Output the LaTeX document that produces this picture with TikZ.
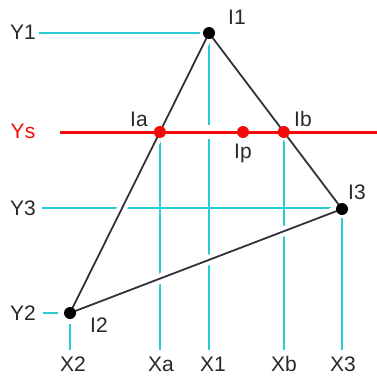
\documentclass[tikz,border=0pt]{standalone}
\usepackage{fontspec}
\setmainfont{Liberation Sans}
\definecolor{guidecyan}{RGB}{40,205,212}
\definecolor{edgegray}{RGB}{50,50,60}
\definecolor{scanred}{RGB}{245,10,10}
\definecolor{labelgray}{RGB}{40,40,40}
\begin{document}
\begin{tikzpicture}[x=1pt,y=-1pt,
  guide/.style={draw=guidecyan, line width=1.6pt},
  halo/.style={draw=white, line width=10pt},
  edge/.style={draw=edgegray, line width=1.8pt},
  scan/.style={draw=scanred, line width=3pt},
  vdot/.style={circle, fill=black, inner sep=0pt, minimum size=12pt},
  rdot/.style={circle, fill=scanred, inner sep=0pt, minimum size=12pt},
  lbl/.style={text=labelgray, font=\fontsize{21}{23}\selectfont, inner sep=0pt},
  rlbl/.style={text=scanred, font=\fontsize{21}{23}\selectfont, inner sep=0pt}
]
\path[use as bounding box] (0,0) rectangle (377,375);

% points
\coordinate (I1) at (209,33);
\coordinate (I2) at (70,313);
\coordinate (I3) at (342,209);
\coordinate (Ia) at (159.9,132);
\coordinate (Ib) at (283.8,132);
\coordinate (Ip) at (243,132);
\coordinate (ysL) at (60,132);
\coordinate (ysR) at (377,132);

% axis labels
\node[lbl] (Y1) at (23,32) {Y1};
\node[lbl] (Y3) at (23,208) {Y3};
\node[lbl] (Y2) at (23,313) {Y2};
\node[rlbl] (Ys) at (23,131) {Ys};
\node[lbl] (X2) at (73,364) {X2};
\node[lbl] (Xa) at (161,364) {Xa};
\node[lbl] (X1) at (213,364) {X1};
\node[lbl] (Xb) at (284,364) {Xb};
\node[lbl] (X3) at (343,364) {X3};

% guide line end points
\coordinate (y1s) at (39,33);
\coordinate (y1e) at (200,33);
\coordinate (y3s) at (42,208);
\coordinate (y3e) at (331,208);
\coordinate (y2s) at (43,313);
\coordinate (y2e) at (58,313);
\coordinate (x2s) at (70,324);
\coordinate (x2e) at (70,350);
\coordinate (xas) at (159.9,132);
\coordinate (xae) at (159.9,350);
\coordinate (x1s) at (209,40);
\coordinate (x1e) at (209,350);
\coordinate (xbs) at (283.8,132);
\coordinate (xbe) at (283.8,350);
\coordinate (x3s) at (342,218);
\coordinate (x3e) at (342,350);

% cyan guide lines
\draw[guide] (y1s) -- (y1e);
\draw[guide] (y3s) -- (y3e);
\draw[guide] (y2s) -- (y2e);
\draw[guide] (x2s) -- (x2e);
\draw[guide] (xas) -- (xae);
\draw[guide] (x1s) -- (x1e);
\draw[guide] (xbs) -- (xbe);
\draw[guide] (x3s) -- (x3e);

% white halos
\draw[halo, line width=14pt] (ysL) -- (ysR);
\draw[halo] (I1) -- (I2) -- (I3) -- cycle;

% triangle
\draw[edge, line join=round] (I1) -- (I2) -- (I3) -- cycle;

% scan line
\draw[scan] (ysL) -- (ysR);

% dots
\node[vdot] (dI1) at (I1) {};
\node[vdot] (dI2) at (I2) {};
\node[vdot] (dI3) at (I3) {};
\node[rdot] (dIa) at (Ia) {};
\node[rdot] (dIb) at (Ib) {};
\node[rdot] (dIp) at (Ip) {};

% point labels
\node[lbl] (lI1) at (237,17) {I1};
\node[lbl] (lI2) at (99,325) {I2};
\node[lbl] (lI3) at (357,192) {I3};
\node[lbl] (lIa) at (139,119) {Ia};
\node[lbl] (lIb) at (303,119) {Ib};
\node[lbl, anchor=north] (lIp) at (243,144) {Ip};
\end{tikzpicture}
\end{document}
